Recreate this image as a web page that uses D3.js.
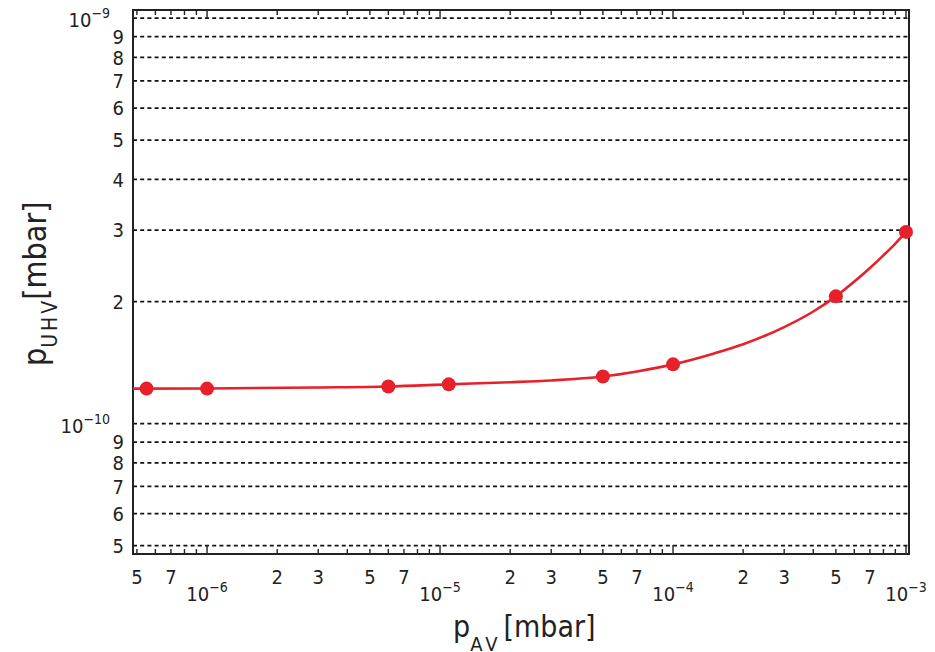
<!DOCTYPE html>
<html><head><meta charset="utf-8">
<script src="https://cdn.jsdelivr.net/npm/d3@7/dist/d3.min.js"></script>
<style>
body{margin:0;background:#fff;}
text{font-family:"DejaVu Sans Condensed","DejaVu Sans",sans-serif;fill:#222;}
</style></head><body>
<svg id="c" width="935" height="652"></svg>
<script>
const pAV  = [5.5e-7, 1.0e-6, 6.0e-6, 1.09e-5, 5.0e-5, 1.0e-4, 5.0e-4, 1.0e-3];
const pUHV = [1.22e-10, 1.22e-10, 1.235e-10, 1.25e-10, 1.307e-10, 1.40e-10, 2.06e-10, 2.97e-10];
// Fitted curve, points (starts at the left frame)
const fitAV  = [4.81e-7, 1e-6, 3e-6, 6e-6, 1.09e-5, 2e-5, 3e-5, 5e-5, 7e-5, 1e-4, 1.5e-4, 2e-4, 3e-4, 4e-4, 5e-4, 6e-4, 7e-4, 8e-4, 9e-4, 1e-3];
const fitUHV = [1.22e-10, 1.221e-10, 1.228e-10, 1.235e-10, 1.25e-10, 1.265e-10, 1.278e-10, 1.307e-10, 1.345e-10, 1.40e-10, 1.49e-10, 1.57e-10, 1.73e-10, 1.89e-10, 2.06e-10, 2.24e-10, 2.42e-10, 2.60e-10, 2.78e-10, 2.97e-10];

const xDomain = [4.81e-7, 1.03e-3];
const yDomain = [4.77e-11, 1.047e-9];
const yGridTicks = [5e-11,6e-11,7e-11,8e-11,9e-11,1e-10,2e-10,3e-10,4e-10,5e-10,6e-10,7e-10,8e-10,9e-10,1e-9];
const yMinorLabels = ["5","6","7","8","9",null,"2","3","4","5","6","7","8","9",null];
const yDecades = [{v:1e-10, e:"\u221210"},{v:1e-9, e:"\u22129"}];
const xMinorTicks = [5e-7,6e-7,7e-7,8e-7,9e-7,2e-6,3e-6,4e-6,5e-6,6e-6,7e-6,8e-6,9e-6,2e-5,3e-5,4e-5,5e-5,6e-5,7e-5,8e-5,9e-5,2e-4,3e-4,4e-4,5e-4,6e-4,7e-4,8e-4,9e-4];
const xMinorLabels = [[5e-7,"5"],[7e-7,"7"],[2e-6,"2"],[3e-6,"3"],[5e-6,"5"],[7e-6,"7"],[2e-5,"2"],[3e-5,"3"],[5e-5,"5"],[7e-5,"7"],[2e-4,"2"],[3e-4,"3"],[5e-4,"5"],[7e-4,"7"]];
const xDecades = [{v:1e-6,e:"\u22126"},{v:1e-5,e:"\u22125"},{v:1e-4,e:"\u22124"},{v:1e-3,e:"\u22123"}];

const L=133, R=909, T=10, B=554;
const svg = d3.select("#c");
const x = d3.scaleLog().domain(xDomain).range([L,R]);
const y = d3.scaleLog().domain(yDomain).range([B,T]);
const red = "#e8202a";

// grid
svg.append("g").selectAll("line").data(yGridTicks).join("line")
  .attr("x1",L).attr("x2",R).attr("y1",d=>y(d)).attr("y2",d=>y(d))
  .attr("stroke","#111").attr("stroke-width",1.7).attr("stroke-dasharray","4,3.2");

// x ticks top and bottom
const g = svg.append("g").attr("stroke","#222").attr("stroke-width",1.4);
xMinorTicks.forEach(v=>{
  g.append("line").attr("x1",x(v)).attr("x2",x(v)).attr("y1",B).attr("y2",B-5);
  g.append("line").attr("x1",x(v)).attr("x2",x(v)).attr("y1",T).attr("y2",T+5);
});
xDecades.forEach(d=>{
  g.append("line").attr("x1",x(d.v)).attr("x2",x(d.v)).attr("y1",B).attr("y2",B-9);
  g.append("line").attr("x1",x(d.v)).attr("x2",x(d.v)).attr("y1",T).attr("y2",T+9);
});

// frame
svg.append("rect").attr("x",L).attr("y",T).attr("width",R-L).attr("height",B-T)
  .attr("fill","none").attr("stroke","#222").attr("stroke-width",2);

// y labels
svg.append("g").selectAll("text").data(yGridTicks.map((v,i)=>({v,l:yMinorLabels[i]})).filter(d=>d.l))
  .join("text").attr("x",124).attr("y",d=>y(d.v)).attr("dy","0.36em")
  .attr("text-anchor","end").attr("font-size",20).text(d=>d.l);
yDecades.forEach(d=>{
  const t = svg.append("text").attr("x",110).attr("y",y(d.v)+9).attr("text-anchor","end").attr("font-size",20);
  t.append("tspan").text("10");
  t.append("tspan").attr("dy",-9).attr("font-size",14).text(d.e);
});

// x labels
svg.append("g").selectAll("text").data(xMinorLabels).join("text")
  .attr("x",d=>x(d[0])).attr("y",584).attr("text-anchor","middle").attr("font-size",20).text(d=>d[1]);
xDecades.forEach(d=>{
  const t = svg.append("text").attr("x",x(d.v)).attr("y",601).attr("text-anchor","middle").attr("font-size",20);
  t.append("tspan").text("10");
  t.append("tspan").attr("dy",-9).attr("font-size",14).text(d.e);
});

// fitted curve
svg.append("path").datum(fitAV.map((v,i)=>[v,fitUHV[i]]))
  .attr("d", d3.line().x(d=>x(d[0])).y(d=>y(d[1])).curve(d3.curveMonotoneX))
  .attr("fill","none").attr("stroke",red).attr("stroke-width",2.6);
// measured points
svg.append("g").selectAll("circle").data(pAV.map((v,i)=>[v,pUHV[i]])).join("circle")
  .attr("cx",d=>x(d[0])).attr("cy",d=>y(d[1])).attr("r",7).attr("fill",red);

// axis titles
const xt = svg.append("text").attr("x",453).attr("y",637).attr("font-size",30);
xt.append("tspan").text("p");
xt.append("tspan").attr("dy",14).attr("font-size",20).attr("letter-spacing",4).text("AV");
xt.append("tspan").attr("dy",-14).attr("dx",2).attr("font-size",30).text("[mbar]");

const yt = svg.append("text").attr("transform","translate(46,366) rotate(-90)").attr("font-size",32);
yt.append("tspan").text("p");
yt.append("tspan").attr("dy",11).attr("font-size",21).attr("letter-spacing",3).text("UHV");
yt.append("tspan").attr("dy",-11).attr("dx",-2).attr("font-size",32).text("[mbar]");
</script>
</body></html>
